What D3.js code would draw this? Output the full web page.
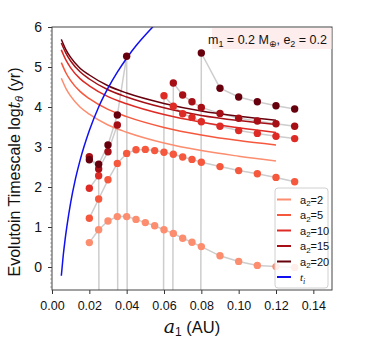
<!DOCTYPE html>
<html><head><meta charset="utf-8">
<script src="https://cdn.jsdelivr.net/npm/d3@7"></script>
<style>
body{margin:0;background:#fff}
svg{display:block}
text{font-family:"Liberation Sans",Arial,sans-serif;fill:#111}
</style>
</head><body>
<svg id="chart" width="374" height="354"></svg>
<script>
// ---------------- data ----------------
const a2Labels = ["2", "5", "10", "15", "20"];
const seriesColors = ["#fc8d6f", "#f6583e", "#df2b26", "#a50f15", "#67000d"];

// theoretical curves (log t_theta vs a1)
const curveA1 = [0.005, 0.0075, 0.01, 0.015, 0.02, 0.03, 0.04, 0.06, 0.08, 0.10, 0.12];
const curveA2_2  = [4.72, 4.46, 4.27, 4.00, 3.82, 3.55, 3.37, 3.10, 2.91, 2.77, 2.65];
const curveA2_5  = [5.11, 4.85, 4.66, 4.39, 4.21, 3.94, 3.76, 3.49, 3.30, 3.16, 3.05];
const curveA2_10 = [5.43, 5.17, 4.98, 4.71, 4.53, 4.26, 4.08, 3.81, 3.62, 3.48, 3.36];
const curveA2_15 = [5.60, 5.34, 5.15, 4.88, 4.70, 4.43, 4.25, 3.98, 3.79, 3.66, 3.56];
const curveA2_20 = [5.69, 5.43, 5.24, 4.97, 4.80, 4.53, 4.35, 4.09, 3.90, 3.77, 3.67];

// t_i curve
const tiA1 = [0.005, 0.006, 0.007, 0.008, 0.01, 0.0125, 0.015, 0.02, 0.025, 0.03, 0.035, 0.04, 0.045, 0.05, 0.055, 0.06];
const tiLog = [-0.22, 0.28, 0.68, 1.02, 1.61, 2.19, 2.66, 3.41, 4.00, 4.47, 4.87, 5.22, 5.53, 5.80, 6.05, 6.28];

// simulated points (OFF = far below the plotted range)
const OFF = -100;
const pointA1 = [0.02, 0.025, 0.03, 0.035, 0.04, 0.045, 0.05, 0.055, 0.06, 0.065, 0.07, 0.075, 0.08, 0.09, 0.10, 0.11, 0.12, 0.13];
const simA2_2  = [0.61, 0.93, 1.15, 1.26, 1.26, 1.19, 1.11, 1.03, 0.93, 0.84, 0.72, 0.62, 0.51, 0.28, 0.14, 0.04, 0.01, -0.01];
const simA2_5  = [1.22, 1.70, 2.18, 2.59, 2.84, 2.93, 2.94, 2.91, 2.87, 2.82, 2.75, 2.69, 2.62, 2.51, 2.41, 2.33, 2.24, 2.13];
const simA2_10 = [1.97, 2.28, OFF, OFF, OFF, OFF, OFF, OFF, 4.28, 4.02, 3.83, 3.74, 3.63, 3.52, 3.41, 3.34, 3.27, 3.21];
const simA2_15 = [2.76, 2.45, 2.88, 3.55, OFF, OFF, OFF, OFF, OFF, 4.60, 4.30, 4.13, 3.99, 3.84, 3.72, 3.65, 3.58, 3.52];
const simA2_20 = [2.68, 2.57, 3.05, 3.80, 5.27, OFF, OFF, OFF, OFF, OFF, OFF, OFF, 5.35, 4.47, 4.25, 4.13, 4.03, 3.95];

const xTicks = [0, 0.02, 0.04, 0.06, 0.08, 0.10, 0.12, 0.14];
const yTicks = [0, 1, 2, 3, 4, 5, 6];

const curves = [curveA2_2, curveA2_5, curveA2_10, curveA2_15, curveA2_20];
const sims = [simA2_2, simA2_5, simA2_10, simA2_15, simA2_20];

// ---------------- layout ----------------
const L = 52, R = 332, T = 27, B = 290;
const svg = d3.select("#chart");
const x = d3.scaleLinear().domain([0, 0.15]).range([L, R]);
const y = d3.scaleLinear().domain([-0.575, 6]).range([B, T]);

svg.append("defs").append("clipPath").attr("id", "clip")
  .append("rect").attr("x", L).attr("y", T).attr("width", R - L).attr("height", B - T);

const plot = svg.append("g").attr("clip-path", "url(#clip)");

// grey connectors
const simLine = d3.line().x(d => x(d[0])).y(d => y(d[1]));
sims.forEach(s => {
  plot.append("path").datum(pointA1.map((a, i) => [a, s[i]]))
    .attr("d", simLine).attr("fill", "none")
    .attr("stroke", "#cdcdcd").attr("stroke-width", 1.5);
});

// theoretical curves
const cLine = d3.line().x(d => x(d[0])).y(d => y(d[1])).curve(d3.curveMonotoneX);
curves.forEach((c, k) => {
  plot.append("path").datum(curveA1.map((a, i) => [a, c[i]]))
    .attr("d", cLine).attr("fill", "none")
    .attr("stroke", seriesColors[k]).attr("stroke-width", 1.5);
});

// t_i
plot.append("path").datum(tiA1.map((a, i) => [a, tiLog[i]]))
  .attr("d", cLine).attr("fill", "none")
  .attr("stroke", "#1010f0").attr("stroke-width", 1.5);

// dots
sims.forEach((s, k) => {
  plot.append("g").selectAll("circle")
    .data(pointA1.map((a, i) => [a, s[i]]).filter(d => d[1] > OFF))
    .join("circle")
    .attr("cx", d => x(d[0])).attr("cy", d => y(d[1])).attr("r", 3.7)
    .attr("fill", seriesColors[k]);
});

// ---------------- axes ----------------
const xAxis = svg.append("g").attr("transform", `translate(0,${B})`)
  .call(d3.axisBottom(x).tickValues(xTicks).tickFormat(d3.format(".2f"))
    .tickSize(4).tickPadding(7).tickSizeOuter(0));
xAxis.select(".domain").remove();
xAxis.selectAll("text").attr("font-size", 12.5).style("font-family", '"Liberation Sans",Arial,sans-serif');
xAxis.selectAll("line").attr("stroke", "#333");

const yAxis = svg.append("g").attr("transform", `translate(${L},0)`)
  .call(d3.axisLeft(y).tickValues(yTicks).tickFormat(d3.format("d")).tickSize(4).tickPadding(6).tickSizeOuter(0));
yAxis.select(".domain").remove();
yAxis.selectAll("text").attr("font-size", 14).style("font-family", '"Liberation Sans",Arial,sans-serif');
yAxis.selectAll("line").attr("stroke", "#333");

// y minor ticks
const minor = d3.range(-5, 60).map(v => v / 10).filter(v => Math.abs(v - Math.round(v)) > 1e-6);
svg.append("g").selectAll("line").data(minor).join("line")
  .attr("x1", L - 2).attr("x2", L).attr("y1", d => y(d)).attr("y2", d => y(d))
  .attr("stroke", "#777").attr("stroke-width", 0.6);

// frame
svg.append("rect").attr("x", L).attr("y", T).attr("width", R - L).attr("height", B - T)
  .attr("fill", "none").attr("stroke", "#444").attr("stroke-width", 1);

// annotation box
svg.append("rect").attr("x", 212).attr("y", T + 1).attr("width", R - 212 - 0.5).attr("height", 21)
  .attr("fill", "#fdeded");
const ann = svg.append("text").attr("x", 327).attr("y", 44).attr("text-anchor", "end").attr("font-size", 12.5);
ann.append("tspan").text("m");
ann.append("tspan").attr("dy", 3).attr("font-size", 9).text("1");
ann.append("tspan").attr("dy", -3).text(" = 0.2 M");
ann.append("tspan").attr("dy", 3).attr("font-size", 9).style("font-family", '"DejaVu Sans"').text("⊕");
ann.append("tspan").attr("dy", -3).text(", e");
ann.append("tspan").attr("dy", 3).attr("font-size", 9).text("2");
ann.append("tspan").attr("dy", -3).text(" = 0.2");

// legend
const lg = svg.append("g");
lg.append("rect").attr("x", 275).attr("y", 188).attr("width", 53).attr("height", 100).attr("rx", 3)
  .attr("fill", "#fff").attr("fill-opacity", 0.85).attr("stroke", "#d0d0d0");
const legendY = d3.scaleLinear().domain([0, 5]).range([199.5, 277]);
a2Labels.forEach((lab, k) => {
  const yy = legendY(k);
  lg.append("line").attr("x1", 277).attr("x2", 291).attr("y1", yy).attr("y2", yy)
    .attr("stroke", seriesColors[k]).attr("stroke-width", 2);
  const t = lg.append("text").attr("x", 300).attr("y", yy + 4).attr("font-size", 11);
  t.append("tspan").text("a");
  t.append("tspan").attr("dy", 2.5).attr("font-size", 8).text("2");
  t.append("tspan").attr("dy", -2.5).text("=" + lab);
});
{
  const yy = legendY(5);
  lg.append("line").attr("x1", 277).attr("x2", 291).attr("y1", yy).attr("y2", yy)
    .attr("stroke", "#1010f0").attr("stroke-width", 2);
  const t = lg.append("text").attr("x", 300).attr("y", yy + 4).attr("font-size", 11);
  t.append("tspan").attr("font-style", "italic").style("font-family", '"Liberation Serif",serif').text("t");
  t.append("tspan").attr("dy", 2.5).attr("font-size", 8).attr("font-style", "italic")
    .style("font-family", '"Liberation Serif",serif').text("i");
}

// axis titles
const xl = svg.append("text").attr("x", 192).attr("y", 333).attr("text-anchor", "middle").attr("font-size", 16.5);
xl.append("tspan").attr("font-style", "italic").attr("font-size", 19).style("font-family", '"DejaVu Serif",serif').text("a");
xl.append("tspan").attr("dy", 3).attr("font-size", 12).text("1");
xl.append("tspan").attr("dy", -3).text(" (AU)");

const yl = svg.append("text").attr("transform", "translate(20,172) rotate(-90)")
  .attr("text-anchor", "middle").attr("font-size", 16);
yl.append("tspan").text("Evolutoin Timescale  log");
yl.append("tspan").attr("font-style", "italic").style("font-family", '"DejaVu Serif",serif').text("t");
yl.append("tspan").attr("dy", 3).attr("font-size", 11).attr("font-style", "italic").text("θ");
yl.append("tspan").attr("dy", -3).text(" (yr)");
</script>
</body></html>
